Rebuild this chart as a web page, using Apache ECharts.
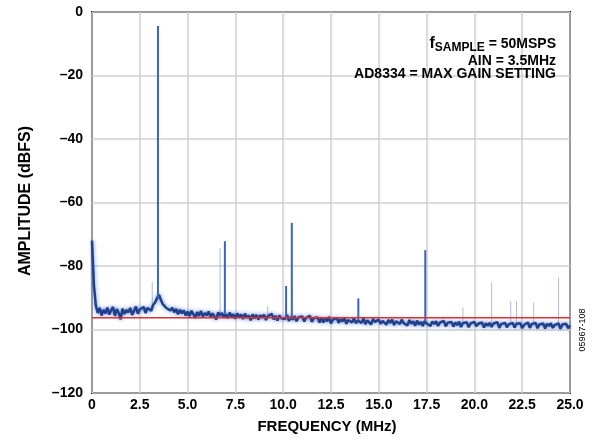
<!DOCTYPE html>
<html>
<head>
<meta charset="utf-8">
<script src="https://cdn.jsdelivr.net/npm/echarts@6/dist/echarts.min.js"></script>
<style>html,body{margin:0;padding:0;background:#fff;}#c{width:593px;height:444px;}</style>
</head>
<body>
<div id="c"></div>
<script>
// ---- data ----
const xTickLabels = ['0','2.5','5.0','7.5','10.0','12.5','15.0','17.5','20.0','22.5','25.0'];
const yTickLabels = ['–120','–100','–80','–60','–40','–20','0'];
const noiseStart = 0;      // MHz
const noiseStep = 0.1;     // MHz between samples
const noiseDb = [
 -72,-86,-92.5,-94.8,-93.2,-95.6,-93.8,-94.9,-93.1,-95.3,
 -94.0,-92.9,-95.7,-93.6,-94.8,-96.8,-93.4,-95.1,-93.9,-94.6,
 -93.2,-95.4,-94.1,-92.8,-95.0,-93.7,-94.3,-92.9,-94.8,-93.2,
 -92.6,-94.1,-92.2,-91.5,-90.2,-89.0,-90.6,-92.0,-91.8,-93.3,
 -92.7,-94.0,-93.1,-94.6,-93.5,-95.2,-93.8,-94.9,-94.0,-95.6,
 -94.3,-95.8,-94.1,-95.2,-96.3,-94.5,-95.7,-94.2,-95.9,-94.8,
 -95.6,-94.3,-96.1,-94.9,-95.4,-96.8,-94.6,-95.7,-94.8,-96.2,
 -95.1,-96.4,-94.7,-95.9,-95.2,-96.6,-94.9,-96.0,-95.3,-96.7,
 -95.0,-96.3,-95.6,-97.1,-95.2,-96.5,-95.4,-96.9,-95.5,-96.2,
 -95.3,-97.0,-95.8,-96.4,-95.1,-96.8,-95.7,-97.2,-95.6,-96.5,
 -95.9,-96.7,-95.4,-97.3,-96.0,-96.9,-95.8,-97.4,-96.1,-96.6,
 -95.9,-97.5,-96.3,-96.9,-95.7,-97.6,-96.4,-97.0,-96.2,-97.8,
 -96.2,-97.8,-96.5,-97.4,-96.0,-98.1,-96.9,-97.3,-96.4,-97.9,
 -96.7,-97.5,-96.3,-98.2,-97.0,-96.6,-97.8,-96.5,-98.0,-97.2,
 -96.8,-97.9,-96.5,-98.3,-97.1,-96.9,-98.4,-96.7,-97.6,-98.0,
 -96.9,-98.2,-97.3,-96.8,-98.5,-97.0,-97.9,-96.9,-98.6,-97.4,
 -97.1,-98.3,-96.9,-98.0,-97.5,-98.7,-97.0,-98.2,-97.4,-98.8,
 -97.2,-98.4,-97.6,-98.9,-97.3,-98.1,-97.7,-98.9,-97.5,-98.3,
 -97.4,-98.9,-97.8,-98.2,-97.3,-99.0,-97.9,-98.5,-97.6,-99.1,
 -97.8,-98.6,-97.5,-99.2,-98.0,-98.4,-97.7,-99.3,-98.1,-98.7,
 -97.6,-99.0,-98.2,-98.5,-97.8,-99.4,-98.0,-98.8,-97.9,-99.2,
 -98.1,-98.6,-97.7,-99.5,-98.3,-98.9,-97.9,-99.3,-98.4,-98.7,
 -97.9,-99.4,-98.2,-98.8,-98.0,-99.6,-98.5,-98.9,-97.8,-99.5,
 -98.3,-98.7,-97.9,-99.6,-98.4,-99.0,-98.1,-99.7,-98.2,-98.9,
 -98.0,-99.5,-98.6,-99.1,-98.1,-99.8,-98.4,-98.9,-98.2,-99.6,
 -98.7
];
// harmonic spurs (strong, blue)
const spurFreq = [3.45, 6.95, 10.15, 10.45, 13.93, 17.43];
const spurTop  = [-4.4, -72.2, -86.3, -66.4, -90.2, -75.0];
const spurBase = [-90, -95, -96, -96, -97, -97.5];
// faint overlay spurs (light)
const faintFreq = [3.15, 6.70, 9.19, 19.40, 20.90, 21.90, 22.20, 23.10, 24.40];
const faintTop  = [-85, -74.3, -92.6, -93, -85, -91, -91, -91.5, -83.7];
const faintBase = [-93, -95, -96, -98, -98, -98, -98, -98, -98];
// reference line
const refLineX = [0, 25];
const refLineY = [-96.3, -96.3];

// ---- build ----
const noiseData = noiseDb.map((v, i) => [noiseStart + i * noiseStep, v]);
const spurData = spurFreq.map((f, i) => [f, spurBase[i], spurTop[i]]);
const faintData = faintFreq.map((f, i) => [f, faintBase[i], faintTop[i]]);
const refData = refLineX.map((x, i) => [x, refLineY[i]]);

function vline(color, width) {
  return function (params, api) {
    const p1 = api.coord([api.value(0), api.value(1)]);
    const p2 = api.coord([api.value(0), api.value(2)]);
    return { type: 'line', shape: { x1: p1[0], y1: p1[1], x2: p2[0], y2: p2[1] },
      style: { stroke: color, lineWidth: width } };
  };
}

const FONT = '"Liberation Sans", Arial, Helvetica, sans-serif';
const chart = echarts.init(document.getElementById('c'), null, { renderer: 'canvas' });
chart.setOption({
  animation: false,
  backgroundColor: '#ffffff',
  grid: { left: 92, right: 23, top: 12, bottom: 51, show: true, borderColor: '#000', borderWidth: 2, backgroundColor: 'transparent' },
  xAxis: {
    type: 'value', min: 0, max: 25, interval: 2.5,
    axisLine: { show: false }, axisTick: { show: false },
    splitLine: { show: true, lineStyle: { color: '#cfcfcf', width: 1.5 } },
    axisLabel: { margin: 5, color: '#000', fontFamily: FONT, fontWeight: 'bold', fontSize: 14,
      formatter: v => xTickLabels[Math.round(v / 2.5)] }
  },
  yAxis: {
    type: 'value', min: -120, max: 0, interval: 20,
    axisLine: { show: false }, axisTick: { show: false },
    splitLine: { show: true, lineStyle: { color: '#cfcfcf', width: 1.5 } },
    axisLabel: { margin: 9, color: '#000', fontFamily: FONT, fontWeight: 'bold', fontSize: 14,
      formatter: v => yTickLabels[Math.round((v + 120) / 20)] }
  },
  series: [
    { type: 'custom', renderItem: vline('rgba(150,165,200,0.75)', 1), data: faintData, z: 2,
      encode: { x: 0, y: [1, 2] }, clip: true },
    { type: 'line', data: noiseData, showSymbol: false, symbol: 'none', z: 3,
      lineStyle: { color: '#1f408d', width: 2.5, shadowColor: 'rgba(90,125,210,0.9)', shadowBlur: 4 } },
    { type: 'custom', renderItem: vline('#3b63c2', 2), data: spurData, z: 4,
      encode: { x: 0, y: [1, 2] }, clip: true },
    { type: 'line', data: refData, showSymbol: false, symbol: 'none', z: 5,
      lineStyle: { color: '#e0302f', width: 1.3 } }
  ],
  graphic: [
    { type: 'text', x: 556, y: 36, z: 100,
      style: { text: '{g|f}{s|SAMPLE}{f| = 50MSPS}', align: 'right', verticalAlign: 'top', fill: '#000',
        rich: {
          g: { fontFamily: FONT, fontWeight: 'bold', fontSize: 16, lineHeight: 19, verticalAlign: 'top' },
          f: { fontFamily: FONT, fontWeight: 'bold', fontSize: 14, lineHeight: 19, verticalAlign: 'top', padding: [1, 0, 0, 0] },
          s: { fontFamily: FONT, fontWeight: 'bold', fontSize: 12, lineHeight: 19, verticalAlign: 'top', padding: [6, 0, 0, 0] }
        } } },
    { type: 'text', x: 556, y: 54, z: 100,
      style: { text: 'AIN = 3.5MHz', align: 'right', verticalAlign: 'top', fill: '#000',
        font: 'bold 14px ' + FONT } },
    { type: 'text', x: 556, y: 67, z: 100,
      style: { text: 'AD8334 = MAX GAIN SETTING', align: 'right', verticalAlign: 'top', fill: '#000',
        font: 'bold 14px ' + FONT } },
    { type: 'text', x: 327, y: 427, z: 100,
      style: { text: 'FREQUENCY (MHz)', align: 'center', verticalAlign: 'middle', fill: '#000',
        font: 'bold 15px ' + FONT } },
    { type: 'text', x: 26, y: 201, rotation: Math.PI / 2, z: 100,
      style: { text: 'AMPLITUDE (dBFS)', align: 'center', verticalAlign: 'middle', fill: '#000',
        font: 'bold 16px ' + FONT } },
    { type: 'text', x: 583, y: 330, rotation: Math.PI / 2, z: 100,
      style: { text: '05967-108', align: 'center', verticalAlign: 'middle', fill: '#000',
        font: '9px ' + FONT } }
  ]
});
</script>
</body>
</html>
